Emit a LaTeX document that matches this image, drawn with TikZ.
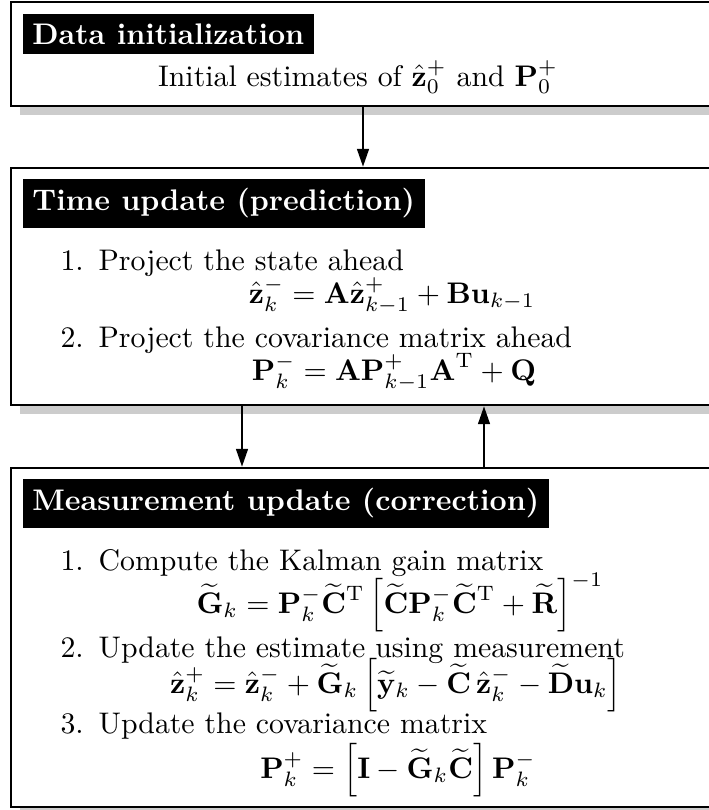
\documentclass[tikz,border=0pt]{standalone}
\usepackage{amsmath}
\usetikzlibrary{arrows.meta,fit,shadows}
\begin{document}
\begin{tikzpicture}[x=0.33557pt,y=-0.33557pt,
  panel/.style={draw=black, line width=0.9pt, fill=white, inner sep=0pt,
    drop shadow={shadow xshift=3pt, shadow yshift=-3pt, fill=black!20, opacity=1}},
  ttl/.style={fill=black, text=white, font=\bfseries, inner sep=3.3pt, anchor=north west},
  txt/.style={anchor=base west, inner sep=0pt},
  eqn/.style={anchor=base, inner sep=0pt},
  arr/.style={line width=0.6pt, -{Triangle[length=6pt,width=4pt]}}]
\useasboundingbox (0,0) rectangle (709,810);
\clip (0,0) rectangle (709,810);
% boxes
\node[panel, fit={(11,2) (730,106)}] (b1) {};
\node[panel, fit={(11,168) (730,405)}] (b2) {};
\node[panel, fit={(11,468) (730,807)}] (b3) {};
% box 1
\node[ttl] (t1) at (22,13) {Data initialization};
\node[eqn] (l1) at (358,86) {Initial estimates of $\hat{\mathbf z}_0^+$ and $\mathbf P_0^+$};
% box 2
\node[ttl] (t2) at (22,178) {Time update (prediction)};
\node[txt] (l2a) at (60,270) {1.\enspace Project the state ahead};
\node[eqn] (e2a) at (392,303) {$\displaystyle \hat{\mathbf z}_k^- = \mathbf A\hat{\mathbf z}_{k-1}^+ + \mathbf B\mathbf u_{k-1}$};
\node[txt] (l2b) at (60,347) {2.\enspace Project the covariance matrix ahead};
\node[eqn] (e2b) at (394,380) {$\displaystyle \mathbf P_k^- = \mathbf A\mathbf P_{k-1}^+\mathbf A^{\mathrm T} + \mathbf Q$};
% box 3
\node[ttl] (t3) at (22,478) {Measurement update (correction)};
\node[txt] (l3a) at (60,570) {1.\enspace Compute the Kalman gain matrix};
\node[eqn] (e3a) at (400,613) {$\displaystyle \widetilde{\mathbf G}_k = \mathbf P_k^-\widetilde{\mathbf C}^{\mathrm T}\left[\widetilde{\mathbf C}\mathbf P_k^-\widetilde{\mathbf C}^{\mathrm T}+\widetilde{\mathbf R}\right]^{-1}$};
\node[txt] (l3b) at (60,657) {2.\enspace Update the estimate using measurement};
\node[eqn] (e3b) at (396,693) {$\displaystyle \hat{\mathbf z}_k^+ = \hat{\mathbf z}_k^- + \widetilde{\mathbf G}_k\left[\widetilde{\mathbf y}_k - \widetilde{\mathbf C}\,\hat{\mathbf z}_k^- - \widetilde{\mathbf D}\mathbf u_k\right]$};
\node[txt] (l3c) at (60,733) {3.\enspace Update the covariance matrix};
\node[eqn] (e3c) at (398,778) {$\displaystyle \mathbf P_k^+ = \left[\mathbf I - \widetilde{\mathbf G}_k\widetilde{\mathbf C}\right]\mathbf P_k^-$};
% connectors
\coordinate (c1) at (363,0);
\coordinate (c2) at (242,0);
\coordinate (c3) at (484,0);
\draw[arr] (b1.south -| c1) -- (b2.north -| c1);
\draw[arr] (b2.south -| c2) -- (b3.north -| c2);
\draw[arr] (b3.north -| c3) -- (b2.south -| c3);
\end{tikzpicture}
\end{document}
